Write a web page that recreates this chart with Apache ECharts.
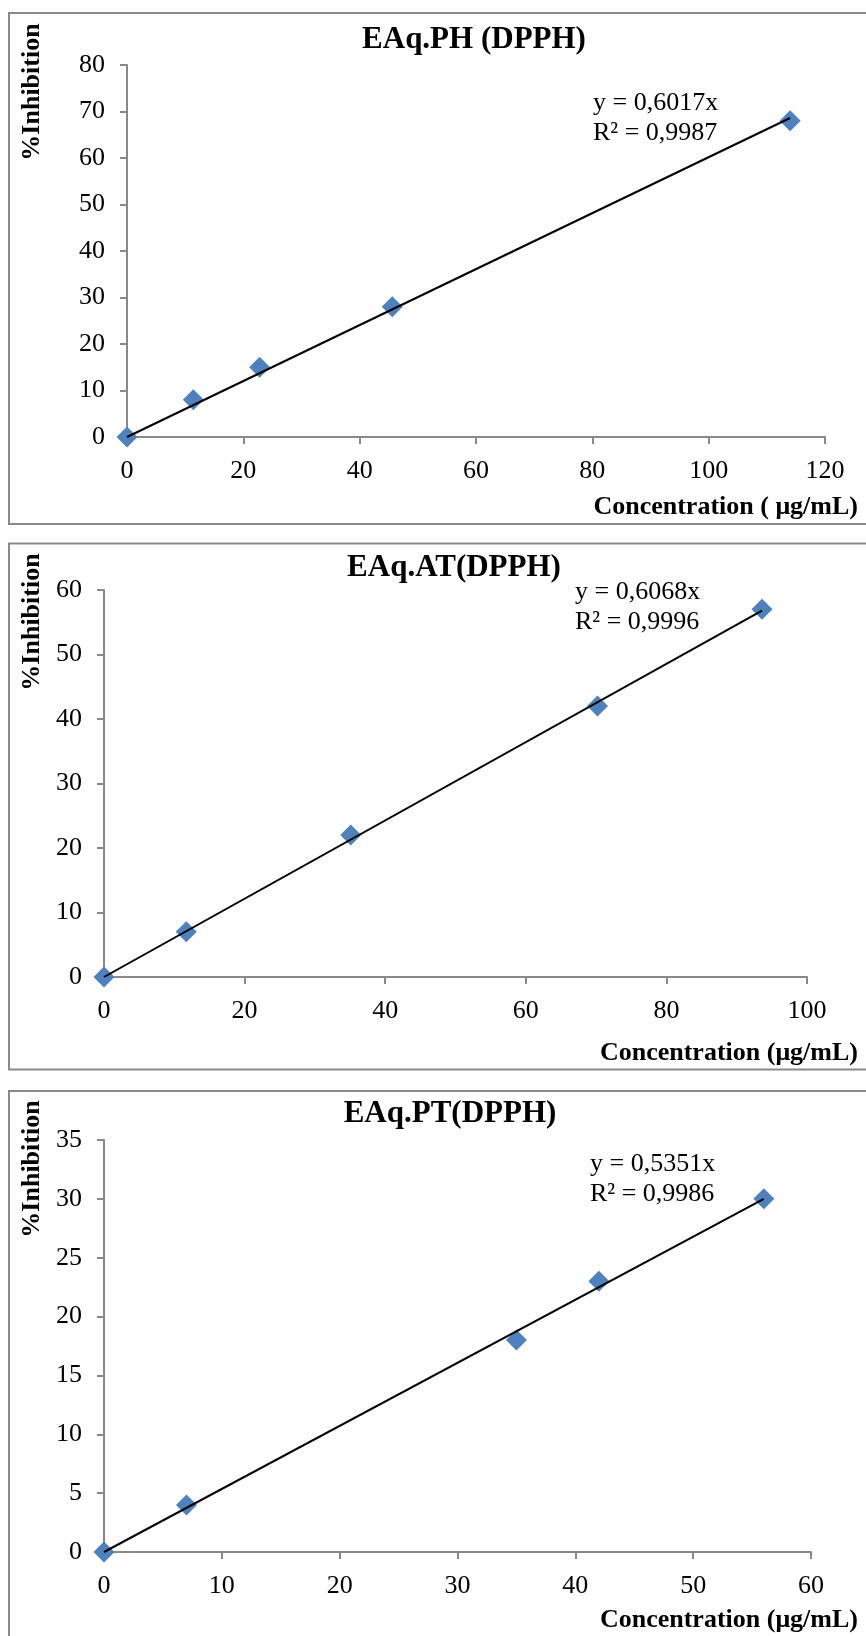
<!DOCTYPE html>
<html>
<head>
<meta charset="utf-8">
<script src="https://cdn.jsdelivr.net/npm/echarts@6/dist/echarts.min.js"></script>
<style>
html, body { margin: 0; padding: 0; background: #fff; }
#chart { width: 866px; height: 1636px; }
</style>
</head>
<body>
<div id="chart"></div>
<script>
// 数据
var titles = ['EAq.PH (DPPH)', 'EAq.AT(DPPH)', 'EAq.PT(DPPH)'];
var xNames = ['Concentration ( μg/mL)', 'Concentration (μg/mL)', 'Concentration (μg/mL)'];
var yName = '%Inhibition';
var equations = ['y = 0,6017x', 'y = 0,6068x', 'y = 0,5351x'];
var r2Texts = ['R² = 0,9987', 'R² = 0,9996', 'R² = 0,9986'];

var phX = [0, 11.4, 22.8, 45.6, 114];
var phY = [0, 8, 15, 28, 68];
var atX = [0, 11.7, 35.1, 70.2, 93.6];
var atY = [0, 7, 22, 42, 57];
var ptX = [0, 7, 35, 42, 56];
var ptY = [0, 4, 18, 23, 30];

// 趋势线端点
var phTrendX = [0, 114];
var phTrendY = [0, 68.6];
var atTrendX = [0, 93.6];
var atTrendY = [0, 56.8];
var ptTrendX = [0, 56];
var ptTrendY = [0, 30];

// 坐标轴范围
var xMax = [120, 100, 60];
var xStep = [20, 20, 10];
var yMax = [80, 60, 35];
var yStep = [10, 10, 5];

function zip(xs, ys) {
    return xs.map(function (x, i) { return [x, ys[i]]; });
}

var pts = [zip(phX, phY), zip(atX, atY), zip(ptX, ptY)];
var trends = [zip(phTrendX, phTrendY), zip(atTrendX, atTrendY), zip(ptTrendX, ptTrendY)];

var serif = '"Liberation Serif", "Times New Roman", serif';
var grey = '#898989';

// 布局
var grids = [
    { left: 127, top: 65, width: 698, height: 372 },
    { left: 104, top: 590, width: 703, height: 387 },
    { left: 104, top: 1140, width: 707, height: 412 }
];
var frames = [
    { y: 13, h: 511 },
    { y: 543.5, h: 526 },
    { y: 1091, h: 600 }
];
var titlePos = [[474, 40], [454, 568], [450, 1114]];
var eqPos = [[593, 103, 133], [575, 592, 622], [590, 1164, 1194]];
var yNamePos = [[32, 92], [32, 622], [32, 1169]];
var xNamePos = [[858, 507], [858, 1053], [858, 1620]];

var xAxes = [], yAxes = [], series = [], graphics = [];

for (var i = 0; i < 3; i++) {
    xAxes.push({
        type: 'value', gridIndex: i, min: 0, max: xMax[i], interval: xStep[i],
        splitLine: { show: false },
        axisLine: { onZero: false, lineStyle: { color: grey, width: 2 } },
        axisTick: { length: 7, lineStyle: { color: grey, width: 2 } },
        axisLabel: { color: '#000', fontFamily: serif, fontSize: 26, margin: 21 }
    });
    yAxes.push({
        type: 'value', gridIndex: i, min: 0, max: yMax[i], interval: yStep[i],
        splitLine: { show: false },
        axisLine: { show: true, onZero: false, lineStyle: { color: grey, width: 2 } },
        axisTick: { show: true, length: 7, lineStyle: { color: grey, width: 2 } },
        axisLabel: { color: '#000', fontFamily: serif, fontSize: 26, margin: 22 }
    });
    series.push({
        type: 'scatter', xAxisIndex: i, yAxisIndex: i,
        symbol: 'diamond', symbolSize: 21,
        itemStyle: { color: '#4F81BD', opacity: 1 },
        data: pts[i], z: 2
    });
    series.push({
        type: 'line', xAxisIndex: i, yAxisIndex: i,
        showSymbol: false, symbol: 'none',
        lineStyle: { color: '#000', width: 2 },
        data: trends[i], z: 3
    });

    graphics.push({
        type: 'rect', silent: true,
        shape: { x: 9, y: frames[i].y, width: 900, height: frames[i].h },
        style: { fill: 'none', stroke: grey, lineWidth: 2 }
    });
    graphics.push({
        type: 'text', x: titlePos[i][0], y: titlePos[i][1],
        style: { text: titles[i], font: 'bold 31px ' + serif, fill: '#000',
                 textAlign: 'center', textVerticalAlign: 'middle' }
    });
    graphics.push({
        type: 'text', x: eqPos[i][0], y: eqPos[i][1],
        style: { text: equations[i], font: '26px ' + serif, fill: '#000',
                 textAlign: 'left', textVerticalAlign: 'middle' }
    });
    graphics.push({
        type: 'text', x: eqPos[i][0], y: eqPos[i][2],
        style: { text: r2Texts[i], font: '26px ' + serif, fill: '#000',
                 textAlign: 'left', textVerticalAlign: 'middle' }
    });
    graphics.push({
        type: 'text', x: yNamePos[i][0], y: yNamePos[i][1], rotation: Math.PI / 2,
        style: { text: yName, font: 'bold 26px ' + serif, fill: '#000',
                 textAlign: 'center', textVerticalAlign: 'middle' }
    });
    graphics.push({
        type: 'text', x: xNamePos[i][0], y: xNamePos[i][1],
        style: { text: xNames[i], font: 'bold 26px ' + serif, fill: '#000',
                 textAlign: 'right', textVerticalAlign: 'middle' }
    });
}

var option = {
    animation: false,
    backgroundColor: '#fff',
    grid: grids,
    xAxis: xAxes,
    yAxis: yAxes,
    series: series,
    graphic: graphics
};

var Chart = echarts.init(document.getElementById('chart'));
Chart.setOption(option);
</script>
</body>
</html>
